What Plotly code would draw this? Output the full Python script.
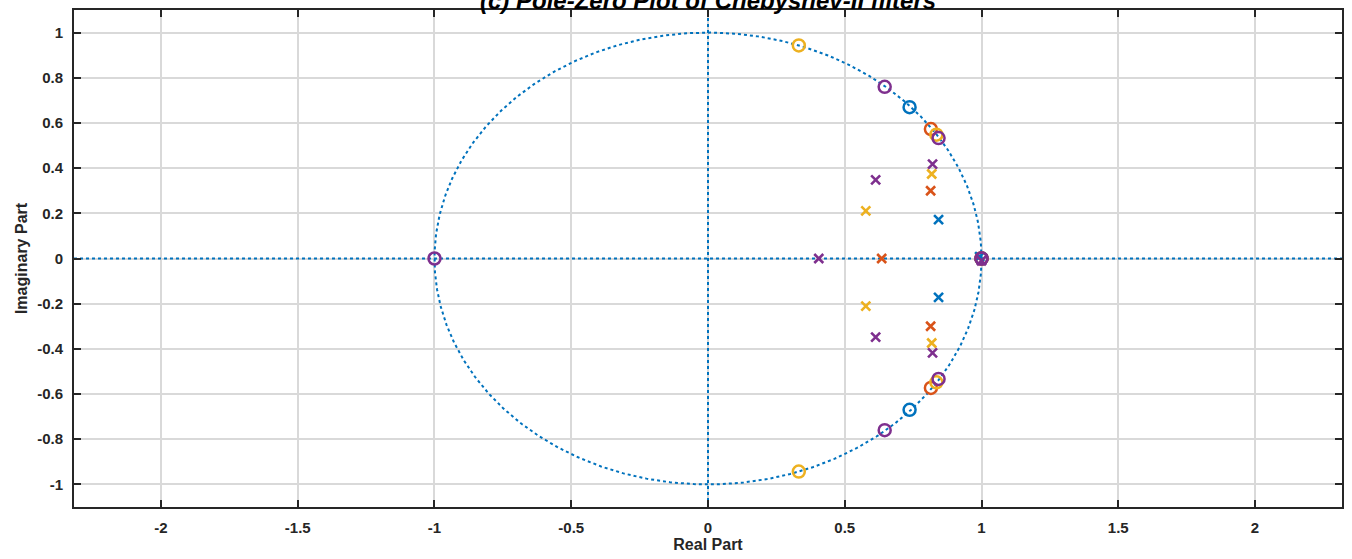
import numpy as np
import plotly.graph_objects as go

# ---- data ----
colors = ["#0072BD", "#D95319", "#EDB120", "#7E2F8E"]
filter_names = ["Filter 1", "Filter 2", "Filter 3", "Filter 4"]

zeros_re = [
    [0.737, 0.737, 1.0],
    [0.815, 0.815, 1.0],
    [0.332, 0.332, 0.835, 0.835, 1.0],
    [-1.0, 0.646, 0.646, 0.843, 0.843, 1.0, 1.0],
]
zeros_im = [
    [0.670, -0.670, 0.0],
    [0.573, -0.573, 0.0],
    [0.943, -0.943, 0.548, -0.548, 0.0],
    [0.0, 0.760, -0.760, 0.533, -0.533, 0.0, 0.0],
]
poles_re = [
    [0.843, 0.843, 0.993],
    [0.814, 0.814, 0.635],
    [0.577, 0.577, 0.818, 0.818],
    [0.405, 0.613, 0.613, 0.821, 0.821, 1.0],
]
poles_im = [
    [0.172, -0.172, 0.008],
    [0.300, -0.300, 0.0],
    [0.211, -0.211, 0.374, -0.374],
    [0.0, 0.348, -0.348, 0.418, -0.418, -0.01],
]

x_ticks = [-2, -1.5, -1, -0.5, 0, 0.5, 1, 1.5, 2]
y_ticks = [-1, -0.8, -0.6, -0.4, -0.2, 0, 0.2, 0.4, 0.6, 0.8, 1]

title_text = "(c) Pole-Zero Plot of Chebyshev-II filters"
x_label = "Real Part"
y_label = "Imaginary Part"

x_range = [-2.318, 2.318]
y_range = [-1.10, 1.10]

FONT = "Liberation Sans, Arial, sans-serif"

fig = go.Figure()

# unit circle and axis lines (dotted)
theta = np.linspace(0, 2 * np.pi, 721)
fig.add_trace(go.Scatter(x=np.cos(theta), y=np.sin(theta), mode="lines",
                         line=dict(color=colors[0], width=2, dash="dot"),
                         hoverinfo="skip", showlegend=False))
fig.add_trace(go.Scatter(x=x_range, y=[0, 0], mode="lines",
                         line=dict(color=colors[0], width=2, dash="dot"),
                         hoverinfo="skip", showlegend=False))
fig.add_trace(go.Scatter(x=[0, 0], y=y_range, mode="lines",
                         line=dict(color=colors[0], width=2, dash="dot"),
                         hoverinfo="skip", showlegend=False))

for i in range(4):
    fig.add_trace(go.Scatter(
        x=zeros_re[i], y=zeros_im[i], mode="markers", name=filter_names[i] + " zeros",
        marker=dict(symbol="circle-open", size=12, color=colors[i], line=dict(width=2.5, color=colors[i])),
        showlegend=False))
    fig.add_trace(go.Scatter(
        x=poles_re[i], y=poles_im[i], mode="markers", name=filter_names[i] + " poles",
        marker=dict(symbol="x-thin-open", size=9, color=colors[i], line=dict(width=2.6, color=colors[i])),
        showlegend=False))

axis_common = dict(
    showline=True, linecolor="#262626", linewidth=2, mirror="ticks",
    ticks="inside", ticklen=7, tickwidth=1.5, tickcolor="#262626",
    showgrid=True, gridcolor="#d9d9d9", gridwidth=1.5,
    zeroline=False,
    tickfont=dict(family=FONT, size=15, color="#262626"),
)

fig.update_xaxes(range=x_range, tickvals=x_ticks, ticktext=["<b>%g</b>" % v for v in x_ticks],
                 ticklabelstandoff=6,
                 title=dict(text="<b>" + x_label + "</b>", font=dict(family=FONT, size=16, color="#262626"), standoff=4),
                 **axis_common)
fig.update_yaxes(range=y_range, tickvals=y_ticks, ticktext=["<b>%g</b>" % v for v in y_ticks],
                 ticklabelstandoff=6,
                 title=dict(text="<b>" + y_label + "</b>", font=dict(family=FONT, size=16, color="#262626"), standoff=6),
                 **axis_common)

fig.update_layout(
    width=1352, height=559,
    margin=dict(l=74, r=8, t=10, b=51),
    plot_bgcolor="white", paper_bgcolor="white",
    font=dict(family=FONT, size=15, color="#262626"),
    annotations=[dict(text="<b><i>" + title_text + "</i></b>", xref="paper", yref="paper",
                      x=0.5, y=1, yanchor="bottom", xanchor="center", showarrow=False,
                      yshift=-6, font=dict(size=24, color="#000000", family=FONT))],
)

fig.write_html("out.html")
